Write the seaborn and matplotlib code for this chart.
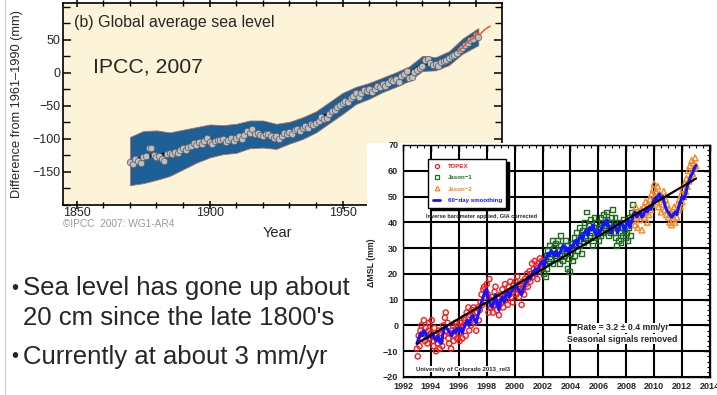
import numpy as np
import pandas as pd
import matplotlib
matplotlib.use("Agg")
import matplotlib.pyplot as plt
from matplotlib.patches import Rectangle
from matplotlib.lines import Line2D
from matplotlib.ticker import MultipleLocator, FixedLocator
import seaborn as sns

# ---------------- IPCC (2007) panel data ----------------
ipcc_years = list(range(1870, 2002))
ipcc_vals = [
    -135, -138, -130, -133, -137, -128, -126, -114, -113, -124,
    -127, -126, -131, -133, -122, -121, -123, -119, -121, -117,
    -114, -116, -112, -110, -106, -109, -105, -107, -103, -99,
    -104, -107, -103, -101, -102, -100, -104, -101, -99, -103,
    -98, -96, -100, -94, -88, -91, -85, -93, -91, -94,
    -95, -93, -92, -96, -98, -96, -100, -95, -91, -93,
    -89, -92, -87, -85, -88, -83, -80, -84, -77, -79,
    -76, -73, -66, -70, -68, -62, -58, -56, -52, -49,
    -45, -42, -44, -38, -35, -31, -36, -30, -26, -28,
    -25, -29, -24, -20, -22, -17, -19, -15, -10, -12,
    -9, -13, -5, -2, 3, -8, -6, 2, 5, 8,
    10, 19, 21, 15, 12, 14, 11, 16, 18, 20,
    22, 25, 27, 31, 35, 38, 42, 45, 50, 52,
    57, 55,
]
band_years = [1870, 1875, 1880, 1885, 1890, 1895, 1900, 1905, 1910, 1915,
              1920, 1925, 1930, 1935, 1940, 1945, 1950, 1955, 1960, 1965,
              1970, 1975, 1980, 1985, 1990, 1995, 2001]
band_upper = [-97, -88, -87, -90, -86, -82, -78, -79, -77, -72,
              -72, -77, -74, -67, -58, -44, -30, -21, -15, -7,
              1, 10, 26, 24, 33, 52, 68]
band_lower = [-170, -167, -162, -156, -146, -136, -128, -123, -121, -114,
              -113, -115, -107, -100, -90, -76, -62, -47, -39, -29,
              -21, -12, 3, 4, 12, 29, 42]
ipcc_smooth = [-134, -128, -124, -122, -114, -107, -102, -101, -99, -93,
               -94, -97, -90, -84, -74, -60, -46, -34, -27, -18,
               -10, -1, 14, 14, 22, 40, 56]
sat_years = [1993.4, 1995.0, 1996.5, 1998.0, 1999.0, 2000.3, 2001.5, 2002.5, 2003.5, 2005.4]
sat_vals = [33, 38, 45, 50, 52, 60, 58, 62, 66, 71]

# ---------------- Satellite altimetry panel data ----------------
topex_start, jason1_start, jason2_start, step = 1993.0, 2002.0625, 2008.5, 1 / 16
topex_vals = [
    -9, -12, -4, -8, -2, 0, -5, -3, 2, -6, -1, -4, -7, -2, 1, -5,
    -3, 2, -6, -8, -1, -4, -10, -5, -7, -2, -9, -6, -3, -8, 0, -4,
    3, 5, -2, 1, -5, -7, -3, -9, -2, 0, -6, -4, 1, -2, -5, 0,
    -3, -6, 1, -1, -5, 0, 3, 2, -4, 5, 1, 7, -2, 4, 0, 6,
    4, 7, 1, 3, -2, 5, 7, 2, 6, 9, 12, 8, 14, 15, 11, 13,
    16, 12, 5, 18, 10, 7, 11, 5, 8, 13, 15, 9, 6, 11, 4, 8,
    12, 9, 14, 7, 11, 16, 10, 13, 8, 15, 12, 17, 11, 14, 9, 16,
    14, 17, 12, 19, 15, 11, 16, 13, 8, 17, 14, 12, 18, 16, 20, 15,
    18, 21, 17, 20, 24, 19, 22, 25, 20, 23, 18, 24, 21, 26, 23, 25,
    22,
]
jason1_vals = [
    20, 24, 19, 27, 22, 29, 25, 31, 26, 28, 33, 24, 30, 27, 32,
    26, 33, 29, 24, 31, 35, 28, 25, 30, 27, 33, 29, 22, 31, 26, 21,
    28, 32, 25, 30, 34, 27, 31, 36, 29, 33, 38, 31, 35, 28, 37, 32,
    40, 34, 44, 37, 33, 39, 35, 41, 36, 31, 38, 42, 34, 37, 40, 35,
    33, 38, 35, 42, 39, 36, 43, 40, 37, 44, 41, 38, 35, 40, 36, 42,
    45, 39, 36, 42, 34, 31, 38, 33, 40, 36, 32, 38, 35, 41, 37, 34,
    36, 40, 33, 38, 42, 35, 44, 47,
]
jason2_vals = [
    41, 44, 39, 46, 42, 38, 44, 43,
    41, 45, 37, 43, 46, 42, 48, 44, 40, 47, 43, 49, 45, 51, 47, 53,
    55, 50, 52, 48, 54, 46, 51, 49, 44, 50, 47, 52, 45, 49, 43, 47,
    42, 45, 40, 44, 39, 43, 41, 46, 40, 44, 42, 47, 45, 49, 46, 51,
    48, 53, 50, 55, 52, 57, 54, 60, 56, 62, 58, 64, 59, 63, 61, 65,
    62,
]
smooth_start, smooth_step = 1993.0, 1 / 8
smooth60_vals = [
    -7, -5, -3, -4, -2, -3, -5, -4,
    -4, -3, -5, -6, -4, -6, -7, -3,
    0, -1, -2, -3, -4, -2, -3, -1,
    -2, -1, -3, -1, 1, 2, 0, 3,
    4, 2, 1, 4, 6, 9, 11, 13,
    14, 10, 8, 7, 9, 12, 8, 6,
    10, 11, 9, 12, 13, 11, 13, 14,
    15, 16, 14, 13, 12, 14, 16, 17,
    19, 18, 20, 21, 22, 20, 23, 24,
    25, 23, 26, 28, 27, 29, 28, 27,
    29, 27, 28, 30, 31, 29, 30, 28,
    31, 30, 32, 33, 31, 34, 35, 33,
    36, 37, 35, 38, 37, 39, 36, 35,
    37, 36, 38, 40, 39, 41, 38, 36,
    37, 39, 38, 36, 38, 40, 39, 37,
    39, 41, 38, 40, 43, 44, 42, 43,
    44, 42, 43, 45, 44, 46, 45, 47,
    49, 48, 50, 51, 49, 50, 47, 45,
    44, 43, 42, 43, 44, 43, 46, 48,
    50, 49, 51, 54, 56, 58, 59, 61,
    62,
]
trend_years = [1993.0, 2013.0]
trend_vals = [-7.0, 57.0]

# ---------------- figure ----------------
sns.set_style("white")
plt.rcParams['font.family'] = ['Liberation Sans', 'DejaVu Sans']
plt.rcParams['axes.unicode_minus'] = True

W, H = 717, 395
fig = plt.figure(figsize=(W / 100, H / 100), dpi=100)
fig.patch.set_facecolor('white')

def fx(px):
    return px / W

def fy(py):
    return 1 - py / H

# ---- left IPCC panel ----
ax1 = fig.add_axes([fx(63), fy(205), fx(502 - 63), (205 - 3) / H], zorder=0)
ax1.set_facecolor('#fcf3d8')
ax1.set_xlim(1844.85, 2009.9)
ax1.set_ylim(-200, 106)

ax1.fill_between(band_years, band_lower, band_upper, color='#1d5f97',
                 edgecolor='#b0705a', linewidth=0.6, zorder=2)
df_ipcc = pd.DataFrame({'year': ipcc_years, 'mm': ipcc_vals})
df_smooth = pd.DataFrame({'year': band_years, 'mm': ipcc_smooth})
df_sat = pd.DataFrame({'year': sat_years, 'mm': sat_vals})
sns.lineplot(data=df_smooth, x='year', y='mm', ax=ax1, color='black',
             linewidth=2, errorbar=None, zorder=3)
sns.scatterplot(data=df_ipcc, x='year', y='mm', ax=ax1, marker='o', s=22,
                facecolor='#bdbdc4', edgecolor='#5a5a5a', linewidth=0.5, zorder=4)
sns.lineplot(data=df_sat, x='year', y='mm', ax=ax1, color='#e8582e',
             linewidth=1.1, errorbar=None, zorder=5)

ax1.xaxis.set_major_locator(FixedLocator([1850, 1900, 1950, 2000]))
ax1.xaxis.set_minor_locator(MultipleLocator(10))
ax1.yaxis.set_major_locator(FixedLocator([-150, -100, -50, 0, 50]))
ax1.yaxis.set_minor_locator(MultipleLocator(25))
ax1.tick_params(axis='x', which='major', direction='inout', length=6, width=1.1,
                top=True, bottom=True, labelsize=9, pad=-1.5, color='black')
ax1.tick_params(axis='x', which='minor', direction='inout', length=4, width=1.0,
                top=True, bottom=True, color='black')
ax1.tick_params(axis='y', which='major', direction='in', length=6, width=1.1,
                left=True, right=True, labelsize=9, pad=2, color='black')
ax1.tick_params(axis='y', which='minor', direction='in', length=5, width=1.0,
                left=True, right=True, color='black')
for sp in ax1.spines.values():
    sp.set_color('black')
    sp.set_linewidth(1.2)
ax1.set_xlabel('Year', fontsize=10.5)
ax1.xaxis.set_label_coords((277 - 63) / 439, (205 - 233) / 202)
ax1.xaxis.label.set_va('center')
ax1.set_ylabel('Difference from 1961–1990 (mm)', fontsize=9.2)
ax1.yaxis.set_label_coords((17 - 63) / 439, 0.5)
ax1.yaxis.label.set_va('center')
ax1.text((74 - 63) / 439, (205 - 23) / 202, '(b) Global average sea level',
         transform=ax1.transAxes, fontsize=11.5, va='center', ha='left')
ax1.text((93 - 63) / 439, (205 - 67) / 202, 'IPCC, 2007',
         transform=ax1.transAxes, fontsize=15.3, va='center', ha='left')
fig.text(fx(63), fy(224), '©IPCC  2007: WG1-AR4', fontsize=7.3,
         color='#9a9a9a', va='center', ha='left')

# ---- slide text ----
bullet_size = 18.5
fig.text(fx(11), fy(288), '•', fontsize=bullet_size * 0.8, va='center', ha='left')
fig.text(fx(23), fy(288), 'Sea level has gone up about', fontsize=bullet_size,
         va='center', ha='left')
fig.text(fx(23), fy(318), "20 cm since the late 1800's", fontsize=bullet_size,
         va='center', ha='left')
fig.text(fx(11), fy(357), '•', fontsize=bullet_size * 0.8, va='center', ha='left')
fig.text(fx(23), fy(357), 'Currently at about 3 mm/yr', fontsize=bullet_size,
         va='center', ha='left')
fig.add_artist(Line2D([fx(4.5), fx(4.5)], [0, 1], color='#d4d4d4', lw=1,
                      transform=fig.transFigure, zorder=0))

# ---- white panel for satellite figure ----
panel = Rectangle((fx(366.7), 0), 1 - fx(366.7), fy(142.7),
                  transform=fig.transFigure, facecolor='white', edgecolor='none',
                  zorder=1)
fig.add_artist(panel)

# ---- right satellite panel ----
ax2 = fig.add_axes([fx(403), fy(377), (710 - 403) / W, (377 - 145) / H], zorder=2)
ax2.set_facecolor('white')
ax2.set_xlim(1992, 2014)
ax2.set_ylim(-20, 70)
ax2.set_axisbelow(True)
ax2.xaxis.set_major_locator(MultipleLocator(2))
ax2.xaxis.set_minor_locator(MultipleLocator(0.5))
ax2.yaxis.set_major_locator(MultipleLocator(10))
ax2.yaxis.set_minor_locator(MultipleLocator(2))
ax2.grid(True, which='major', color='black', linewidth=1.5)

t_top = topex_start + np.arange(len(topex_vals)) * step
t_j1 = jason1_start + np.arange(len(jason1_vals)) * step
t_j2 = jason2_start + np.arange(len(jason2_vals)) * step
t_sm = smooth_start + np.arange(len(smooth60_vals)) * smooth_step
df_top = pd.DataFrame({'t': t_top, 'mm': topex_vals})
df_j1 = pd.DataFrame({'t': t_j1, 'mm': jason1_vals})
df_j2 = pd.DataFrame({'t': t_j2, 'mm': jason2_vals})
df_sm = pd.DataFrame({'t': t_sm, 'mm': smooth60_vals})
df_tr = pd.DataFrame({'t': trend_years, 'mm': trend_vals})

c_top, c_j1, c_j2, c_sm = '#ff1a1a', '#1e6b1e', '#f5861f', '#1414ff'
sns.scatterplot(data=df_top, x='t', y='mm', ax=ax2, marker='o', s=14,
                facecolor='none', edgecolor=c_top, linewidth=1.0, zorder=3)
sns.scatterplot(data=df_j1, x='t', y='mm', ax=ax2, marker='s', s=12,
                facecolor='none', edgecolor=c_j1, linewidth=1.0, zorder=3)
sns.scatterplot(data=df_j2, x='t', y='mm', ax=ax2, marker='^', s=17,
                facecolor='none', edgecolor=c_j2, linewidth=1.0, zorder=3)
sns.lineplot(data=df_sm, x='t', y='mm', ax=ax2, color=c_sm, linewidth=2.2,
             errorbar=None, zorder=4)
sns.lineplot(data=df_tr, x='t', y='mm', ax=ax2, color='black', linewidth=1.6,
             errorbar=None, zorder=5)

ax2.tick_params(which='major', direction='in', length=4, width=1,
                top=True, right=True, labelsize=6.5, color='black')
ax2.tick_params(which='minor', direction='in', length=2.2, width=0.8,
                top=True, right=True, color='black')
for lbl in ax2.get_xticklabels() + ax2.get_yticklabels():
    lbl.set_fontweight('bold')
for sp in ax2.spines.values():
    sp.set_color('black')
    sp.set_linewidth(1.0)
ax2.set_xlabel('')
ax2.set_ylabel('ΔMSL (mm)', fontsize=6.3, fontweight='bold')
ax2.yaxis.set_label_coords((372 - 403) / 307, (377 - 263) / 232)
ax2.yaxis.label.set_va('center')

handles = [
    Line2D([], [], marker='o', ls='none', mfc='none', mec=c_top, ms=3, mew=0.9),
    Line2D([], [], marker='s', ls='none', mfc='none', mec=c_j1, ms=3, mew=0.9),
    Line2D([], [], marker='^', ls='none', mfc='none', mec=c_j2, ms=3.3, mew=0.9),
    Line2D([], [], color=c_sm, lw=2),
]
leg = ax2.legend(handles, ['TOPEX', 'Jason−1', 'Jason−2', '60−day smoothing'],
                 loc='upper left', bbox_to_anchor=((428.3 - 403) / 307, (377 - 159) / 232),
                 borderaxespad=0, labelspacing=1.0, borderpad=0.75,
                 handlelength=1.2, handletextpad=1.2, frameon=True, fancybox=False,
                 edgecolor='black', framealpha=1,
                 shadow={'color': 'black', 'alpha': 1},
                 labelcolor=[c_top, c_j1, c_j2, c_sm],
                 prop={'weight': 'bold', 'size': 4.4})
leg.get_frame().set_linewidth(1.0)
leg.set_zorder(6)

ax2.text((481.5 - 403) / 307, (377 - 217) / 232, 'Inverse barometer applied, GIA corrected',
         transform=ax2.transAxes, fontsize=4.1, fontweight='bold', ha='center',
         va='center', zorder=6)
ax2.text((623 - 403) / 307, (377 - 328) / 232, 'Rate = 3.2 ± 0.4 mm/yr',
         transform=ax2.transAxes, fontsize=6.3, fontweight='bold', ha='center',
         va='center', zorder=6, bbox=dict(facecolor='white', edgecolor='none', pad=0.3))
ax2.text((622 - 403) / 307, (377 - 339) / 232, 'Seasonal signals removed',
         transform=ax2.transAxes, fontsize=6.3, fontweight='bold', ha='center',
         va='center', zorder=6, bbox=dict(facecolor='white', edgecolor='none', pad=0.3))
ax2.text((416 - 403) / 307, (377 - 369) / 232, 'University of Colorado 2013_rel3',
         transform=ax2.transAxes, fontsize=4.3, fontweight='bold', ha='left',
         va='center', zorder=6, bbox=dict(facecolor='white', edgecolor='none', pad=0.3))

fig.savefig('out.png', dpi=100)
